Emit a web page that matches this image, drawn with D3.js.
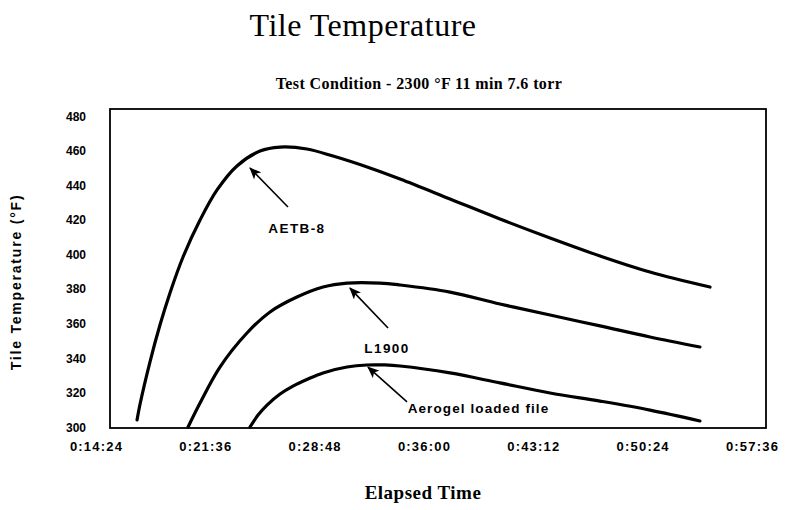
<!DOCTYPE html>
<html>
<head>
<meta charset="utf-8">
<script src="https://cdn.jsdelivr.net/npm/d3@7"></script>
<style>
  html, body { margin: 0; padding: 0; background: #fff; }
  svg { display: block; }
</style>
</head>
<body>
<svg id="chart" width="801" height="510"></svg>
<script>
// ---- Data (elapsed time in minutes, temperature in °F) ----
const aetbTime = [16.18, 16.38, 17.03, 17.69, 18.35, 19.21, 20.33, 21.45, 22.76, 24.28, 25.6, 27.37, 29.09, 31.52, 33.5, 36.79, 40.08, 43.38, 46.67, 49.96, 53.91];
const aetbTemp = [304.1, 313.3, 337.6, 359.0, 377.6, 398.4, 419.8, 437.2, 451.1, 459.7, 462.0, 460.9, 456.8, 449.9, 443.5, 432.0, 420.4, 409.4, 399.0, 389.7, 381.0];

const l1900Time = [19.54, 20.33, 21.64, 23.42, 24.94, 26.71, 28.43, 30.01, 32.18, 33.5, 36.79, 40.08, 43.38, 46.67, 49.96, 53.25];
const l1900Temp = [300, 313.9, 334.7, 354.4, 366.6, 375.2, 381, 383.3, 383.3, 382.2, 378.1, 371.2, 364.8, 358.5, 352.1, 346.3];

const aeroTime = [23.62, 24.15, 24.74, 25.6, 26.45, 27.44, 28.43, 30.01, 31.32, 32.51, 33.5, 36.79, 40.08, 43.38, 46.67, 49.96, 53.25];
const aeroTemp = [300, 306.9, 312.7, 319.1, 323.7, 327.8, 331.3, 334.7, 335.9, 335.9, 335.3, 331.3, 325.5, 319.7, 315, 309.8, 303.5];

const xTickValues = [14.4, 21.6, 28.8, 36.0, 43.2, 50.4, 57.6];
const xTickLabels = ["0:14:24", "0:21:36", "0:28:48", "0:36:00", "0:43:12", "0:50:24", "0:57:36"];
const yTickValues = [300, 320, 340, 360, 380, 400, 420, 440, 460, 480];

const seriesNames = ["AETB-8", "L1900", "Aerogel loaded file"];
// annotations: [headX, headY, tailX, tailY, labelX, labelY]
const annotAETB = [23.62, 449.9, 26.12, 427.3, 26.71, 415.2];
const annotL1900 = [30.2, 380.4, 32.71, 357.3, 32.64, 345.7];
const annotAero = [31.39, 334.7, 33.96, 314.5, 34.0, 311.0];

const titleText = "Tile Temperature";
const subtitleText = "Test Condition - 2300 °F 11 min 7.6 torr";
const xTitle = "Elapsed Time";
const yTitle = "Tile Temperature (°F)";

// ---- Layout ----
const svg = d3.select("#chart");
const plotL = 110, plotR = 766, plotT = 109, plotB = 427;

const x = d3.scaleLinear().domain([14.4, 57.6]).range([plotL, plotR]);
const y = d3.scaleLinear().domain([300, 480]).range([plotB, 116]);

// frame
svg.append("rect")
  .attr("x", plotL).attr("y", plotT)
  .attr("width", plotR - plotL).attr("height", plotB - plotT + 1)
  .attr("fill", "none").attr("stroke", "#000").attr("stroke-width", 1.8);

// axes
const xAxis = d3.axisBottom(x).tickValues(xTickValues).tickSize(0)
  .tickFormat((d, i) => xTickLabels[i]);
const gx = svg.append("g").attr("transform", `translate(0,${plotB})`).call(xAxis);
gx.select(".domain").remove();
gx.selectAll("text")
  .attr("dy", "1.6em").attr("dx", -14)
  .style("font-family", "'Liberation Sans', Arial, sans-serif")
  .style("font-size", "13px").style("letter-spacing", "1.2px")
  .style("font-weight", "bold")
  .attr("fill", "#000");

const yAxis = d3.axisLeft(y).tickValues(yTickValues).tickSize(0);
const gy = svg.append("g").attr("transform", `translate(${plotL},0)`).call(yAxis);
gy.select(".domain").remove();
gy.selectAll("text")
  .attr("x", -24).attr("dy", "0.35em")
  .style("font-family", "'Liberation Sans', Arial, sans-serif")
  .style("font-size", "12px").style("font-weight", "bold")
  .attr("fill", "#000");

// lines
const line = d3.line().x(d => x(d[0])).y(d => y(d[1])).curve(d3.curveCatmullRom.alpha(0.5));
const series = [
  d3.zip(aetbTime, aetbTemp),
  d3.zip(l1900Time, l1900Temp),
  d3.zip(aeroTime, aeroTemp)
];
svg.append("g").selectAll("path").data(series).join("path")
  .attr("d", line)
  .attr("fill", "none").attr("stroke", "#000")
  .attr("stroke-width", 3.2).attr("stroke-linejoin", "round").attr("stroke-linecap", "round");

// arrow marker
svg.append("defs").append("marker")
  .attr("id", "arrow").attr("viewBox", "0 0 12 10")
  .attr("refX", 11).attr("refY", 5)
  .attr("markerWidth", 13).attr("markerHeight", 10)
  .attr("markerUnits", "userSpaceOnUse")
  .attr("orient", "auto")
  .append("path").attr("d", "M0,0 L12,5 L0,10 L3,5 Z").attr("fill", "#000");

const annots = [annotAETB, annotL1900, annotAero];
const ag = svg.append("g");
annots.forEach((a, i) => {
  ag.append("line")
    .attr("x1", x(a[2])).attr("y1", y(a[3]))
    .attr("x2", x(a[0])).attr("y2", y(a[1]))
    .attr("stroke", "#000").attr("stroke-width", 1.6)
    .attr("marker-end", "url(#arrow)");
  ag.append("text")
    .attr("x", x(a[4])).attr("y", y(a[5]))
    .attr("dy", "0.35em")
    .attr("text-anchor", i === 2 ? "start" : "middle")
    .style("font-family", "'Liberation Sans', Arial, sans-serif")
    .style("font-size", "13.5px").style("font-weight", "bold")
    .style("letter-spacing", i === 2 ? "1.1px" : "1.4px")
    .text(seriesNames[i]);
});

// titles
svg.append("text").attr("x", 363).attr("y", 36)
  .attr("text-anchor", "middle")
  .style("font-family", "'Liberation Serif', 'Times New Roman', serif")
  .style("font-size", "32px").style("letter-spacing", "0.5px")
  .text(titleText);

svg.append("text").attr("x", 419).attr("y", 89)
  .attr("text-anchor", "middle")
  .style("font-family", "'Liberation Serif', 'Times New Roman', serif")
  .style("font-size", "16px").style("font-weight", "bold")
  .style("letter-spacing", "0.4px")
  .text(subtitleText);

svg.append("text").attr("x", 423).attr("y", 499)
  .attr("text-anchor", "middle")
  .style("font-family", "'Liberation Serif', 'Times New Roman', serif")
  .style("font-size", "19px").style("font-weight", "bold")
  .style("letter-spacing", "0.5px")
  .text(xTitle);

svg.append("text")
  .attr("transform", "translate(21,282) rotate(-90)")
  .attr("text-anchor", "middle")
  .style("font-family", "'Liberation Sans', Arial, sans-serif")
  .style("font-size", "14px").style("font-weight", "bold")
  .style("letter-spacing", "1.8px")
  .text(yTitle);
</script>
</body>
</html>
